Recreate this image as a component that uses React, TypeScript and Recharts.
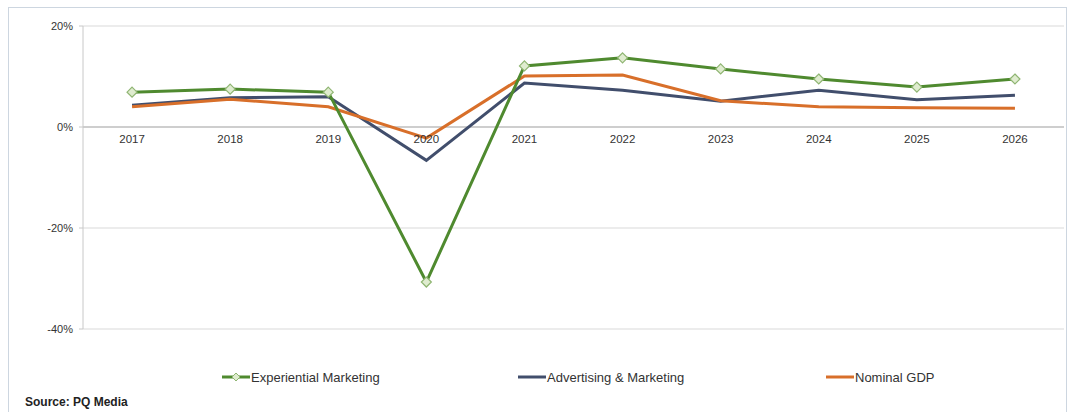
import React from 'react';
import { LineChart, Line, XAxis, YAxis, CartesianGrid, ReferenceLine, ReferenceDot } from 'recharts';

const years = ['2017', '2018', '2019', '2020', '2021', '2022', '2023', '2024', '2025', '2026'];
const experiential = [6.9, 7.5, 6.9, -30.7, 12.1, 13.7, 11.5, 9.5, 7.9, 9.5];
const advertising = [4.3, 5.8, 6.0, -6.6, 8.7, 7.3, 5.1, 7.3, 5.4, 6.3];
const nominalGdp = [4.0, 5.5, 4.0, -2.2, 10.1, 10.3, 5.2, 4.0, 3.8, 3.7];
const yTicks = [20, 0, -20, -40];

const seriesNames = ['Experiential Marketing', 'Advertising & Marketing', 'Nominal GDP'];
const seriesColors = ['#4f8a2f', '#414e6c', '#d86f2a'];

const data = years.map((year, i) => ({
  year,
  experiential: experiential[i],
  advertising: advertising[i],
  gdp: nominalGdp[i],
}));

const font = 'Arial, "Liberation Sans", sans-serif';

const Diamond = (props: any) => {
  const { cx, cy } = props;
  if (cx == null || cy == null) return null;
  return (
    <path
      d={`M${cx},${cy - 5} L${cx + 5},${cy} L${cx},${cy + 5} L${cx - 5},${cy} Z`}
      fill="#dfeccf"
      stroke="#8fb572"
      strokeWidth={1.2}
    />
  );
};

const legendLeft = [222, 518, 826];

export default function App() {
  return (
    <div style={{ position: 'absolute', left: 0, top: 0, width: 1071, height: 412, background: '#fff', overflow: 'hidden', fontFamily: font }}>
      <div style={{ position: 'absolute', left: 8, top: 7, width: 1059, height: 420, border: '1px solid #cdd6e0', boxSizing: 'border-box' }} />
      <div style={{ position: 'absolute', left: 0, top: 0 }}>
        <LineChart width={1071} height={340} data={data} margin={{ top: 26, right: 7, bottom: 11, left: 0 }}>
          <CartesianGrid vertical={false} stroke="#d9d9d9" />
          <XAxis dataKey="year" scale="band" hide />
          <YAxis
            domain={[-40, 20]}
            ticks={yTicks}
            width={83}
            tickFormatter={(v: number) => `${v}%`}
            axisLine={{ stroke: '#c8c8c8' }}
            tickLine={{ stroke: '#c8c8c8' }}
            tickSize={4}
            tickMargin={6}
            tick={{ fill: '#333', fontSize: 11, fontFamily: font }}
          />
          <ReferenceLine y={0} stroke="#b0b0b0" strokeWidth={1.2} />
          {years.map((y) => (
            <ReferenceDot
              key={y}
              x={y}
              y={0}
              r={0}
              fill="none"
              stroke="none"
              label={{ value: y, position: 'bottom', offset: 8, fill: '#333', fontSize: 11.5, fontFamily: font }}
            />
          ))}
          <Line dataKey="advertising" stroke={seriesColors[1]} strokeWidth={3} dot={false} isAnimationActive={false} />
          <Line dataKey="gdp" stroke={seriesColors[2]} strokeWidth={3} dot={false} isAnimationActive={false} />
          <Line dataKey="experiential" stroke={seriesColors[0]} strokeWidth={3} dot={<Diamond />} isAnimationActive={false} />
        </LineChart>
      </div>
      {seriesNames.map((name, i) => (
        <div key={name} style={{ position: 'absolute', left: legendLeft[i], top: 369, height: 16, display: 'flex', alignItems: 'center' }}>
          <svg width={28} height={16} style={{ display: 'block' }}>
            <line x1={0} y1={8} x2={28} y2={8} stroke={seriesColors[i]} strokeWidth={3} />
            {i === 0 && <path d="M14,4 L18,8 L14,12 L10,8 Z" fill="#dfeccf" stroke="#8fb572" strokeWidth={1} />}
          </svg>
          <span style={{ fontSize: 13, color: '#333', marginLeft: 1, whiteSpace: 'nowrap' }}>{name}</span>
        </div>
      ))}
      <div style={{ position: 'absolute', left: 25, top: 395, fontSize: 12, fontWeight: 'bold', color: '#222' }}>Source: PQ Media</div>
    </div>
  );
}
